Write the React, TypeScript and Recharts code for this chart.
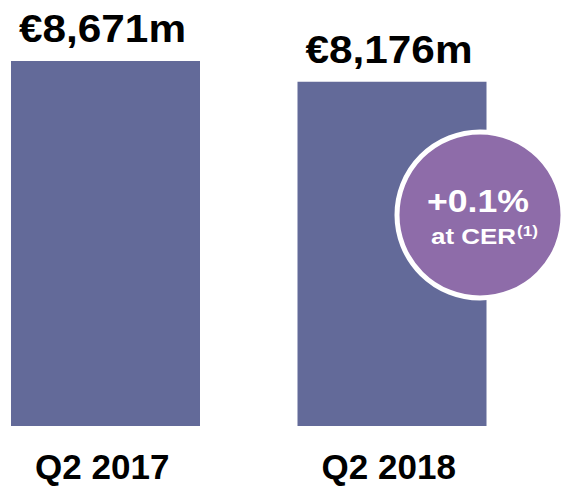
import { BarChart, Bar, XAxis, YAxis, LabelList } from 'recharts'

const categories = ['Q2 2017', 'Q2 2018']
const revenue = [8671, 8176]
const revenueLabels = ['€8,671m', '€8,176m']
const badgeMain = '+0.1%'
const badgeSub = 'at CER'
const badgeNote = '(1)'

const data = categories.map((name, i) => ({ name, value: revenue[i], label: revenueLabels[i] }))

const FONT = '"Liberation Sans", Arial, Helvetica, sans-serif'
const BAR = '#636a99'
const PURPLE = '#8e6ca9'

// eslint-disable-next-line @typescript-eslint/no-explicit-any
function TopLabel({ x, y, width, index }: any) {
  return (
    <text
      x={x + width / 2 - 3}
      y={y - 19}
      textAnchor="middle"
      fontFamily={FONT}
      fontWeight="bold"
      fontSize={38}
      fill="#000"
      textLength={167}
      lengthAdjust="spacingAndGlyphs"
    >
      {revenueLabels[index]}
    </text>
  )
}

// eslint-disable-next-line @typescript-eslint/no-explicit-any
function CategoryTick({ x, y, payload }: any) {
  return (
    <text x={x - 3} y={y + 45} textAnchor="middle" fontFamily={FONT} fontWeight="bold" fontSize={35} fill="#000">
      {payload.value}
    </text>
  )
}

function Badge() {
  return (
    <svg width={564} height={488} style={{ position: 'absolute', left: 0, top: 0, pointerEvents: 'none' }}>
      <circle cx={480} cy={215} r={83} fill={PURPLE} stroke="#fff" strokeWidth={5} />
      <text x={478} y={212} textAnchor="middle" fontFamily={FONT} fontWeight="bold" fontSize={31} fill="#fff"
        textLength={102} lengthAdjust="spacingAndGlyphs">
        {badgeMain}
      </text>
      <text x={431} y={244} fontFamily={FONT} fontWeight="bold" fontSize={22} fill="#fff"
        textLength={85} lengthAdjust="spacingAndGlyphs">
        {badgeSub}
      </text>
      <text x={517} y={236} fontFamily={FONT} fontWeight="bold" fontSize={14} fill="#fff"
        textLength={21} lengthAdjust="spacingAndGlyphs">
        {badgeNote}
      </text>
    </svg>
  )
}

export default function App() {
  return (
    <div style={{ position: 'absolute', left: 0, top: 0, width: 564, height: 488, background: '#fff' }}>
      <BarChart width={564} height={488} data={data} margin={{ top: 5, right: 29, left: -38, bottom: 0 }} barSize={189}>
        <XAxis dataKey="name" axisLine={false} tickLine={false} tick={<CategoryTick />} height={62} interval={0} />
        <YAxis hide domain={[0, 10000]} />
        <Bar dataKey="value" fill={BAR} isAnimationActive={false}>
          <LabelList dataKey="label" content={<TopLabel />} />
        </Bar>
      </BarChart>
      <Badge />
    </div>
  )
}
